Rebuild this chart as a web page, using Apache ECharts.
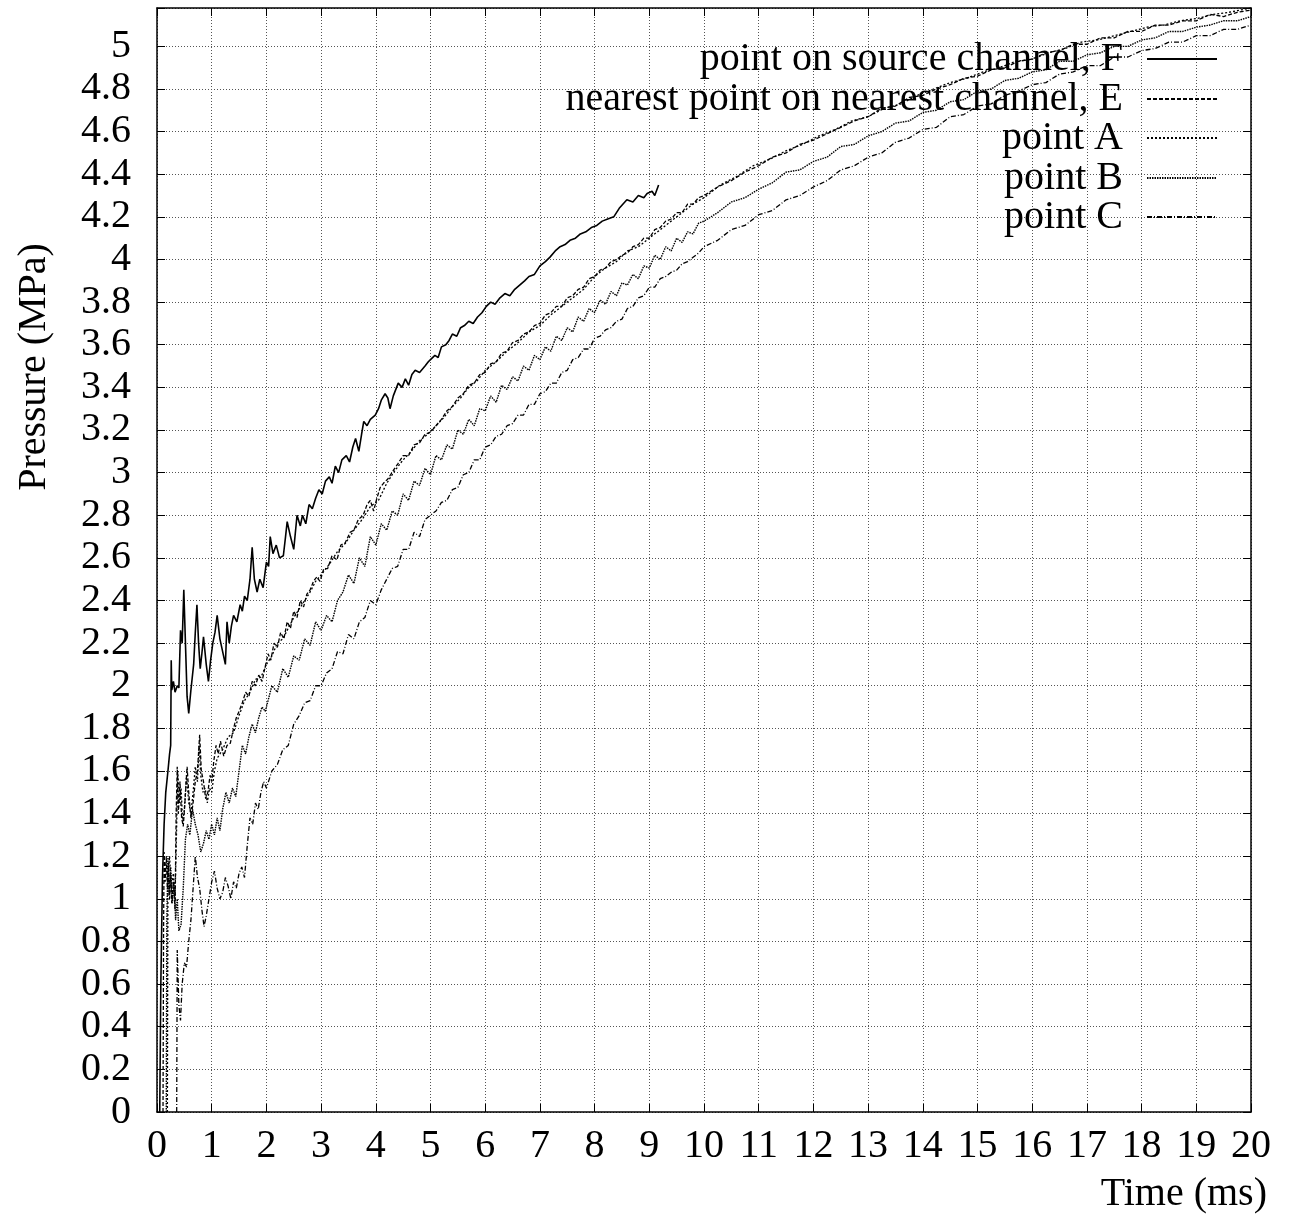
<!DOCTYPE html>
<html>
<head>
<meta charset="utf-8">
<script src="https://cdn.jsdelivr.net/npm/echarts@6/dist/echarts.min.js"></script>
<style>
  html, body { margin: 0; padding: 0; background: #fff; }
  #chart { width: 1292px; height: 1217px; }
</style>
</head>
<body>
<div id="chart"></div>
<script>
// Pressure histories (time in ms, pressure in MPa)
const seriesNames = [
  'point on source channel, F',
  'nearest point on nearest channel, E',
  'point A',
  'point B',
  'point C'
];

const pointF = [
  [0.05,0],[0.07,0.6],[0.10,1.1],[0.13,1.35],[0.16,1.5],[0.2,1.6],[0.23,1.68],[0.25,1.72],[0.26,2.12],[0.27,1.98],
  [0.3,2.02],[0.33,1.97],[0.37,2.0],[0.4,1.99],[0.43,2.26],[0.46,2.2],[0.49,2.45],[0.52,2.2],[0.55,1.95],[0.58,1.87],
  [0.62,1.98],[0.67,2.1],[0.7,2.25],[0.73,2.38],[0.76,2.2],[0.79,2.08],[0.82,2.15],[0.85,2.23],[0.9,2.1],[0.94,2.02],
  [0.98,2.12],[1.02,2.2],[1.06,2.25],[1.1,2.33],[1.15,2.22],[1.2,2.16],[1.25,2.1],[1.28,2.3],[1.32,2.2],[1.36,2.28],
  [1.4,2.33],[1.46,2.3],[1.52,2.38],[1.56,2.35],[1.6,2.42],[1.65,2.4],[1.7,2.5],[1.74,2.65],[1.78,2.5],[1.83,2.44],
  [1.88,2.5],[1.94,2.46],[2.0,2.58],[2.04,2.56],[2.07,2.7],[2.12,2.62],[2.18,2.66],[2.24,2.6],[2.31,2.61],[2.35,2.7],
  [2.38,2.77],[2.44,2.7],[2.5,2.64],[2.56,2.8],[2.62,2.75],[2.66,2.8],[2.72,2.76],[2.78,2.85],[2.84,2.83],[2.9,2.88],
  [2.96,2.92],[3.02,2.9],[3.08,2.96],[3.15,2.98],[3.2,2.95],[3.26,3.03],[3.32,3.0],[3.38,3.06],[3.46,3.08],[3.52,3.05],
  [3.58,3.12],[3.63,3.16],[3.69,3.1],[3.74,3.18],[3.78,3.24],[3.84,3.22],[3.9,3.25],[3.99,3.27],[4.05,3.3],[4.1,3.34],
  [4.17,3.37],[4.22,3.35],[4.26,3.3],[4.32,3.36],[4.38,3.4],[4.41,3.42],[4.48,3.4],[4.54,3.44],[4.6,3.41],[4.66,3.46],
  [4.72,3.48],[4.8,3.47],[4.9,3.5],[4.96,3.52],[5.0,3.53],[5.08,3.55],[5.14,3.54],[5.2,3.59],[5.28,3.6],[5.34,3.62],
  [5.4,3.65],[5.48,3.64],[5.55,3.68],[5.62,3.69],[5.7,3.71],[5.78,3.7],[5.86,3.73],[5.94,3.75],[6.02,3.78],[6.1,3.8],
  [6.18,3.79],[6.27,3.82],[6.36,3.84],[6.45,3.83],[6.54,3.86],[6.63,3.88],[6.72,3.9],[6.8,3.92],[6.9,3.93],[7.0,3.97],
  [7.1,3.99],[7.18,4.01],[7.28,4.04],[7.37,4.06],[7.46,4.07],[7.55,4.09],[7.65,4.1],[7.74,4.12],[7.84,4.13],[7.94,4.15],
  [8.04,4.16],[8.14,4.18],[8.24,4.19],[8.35,4.2],[8.45,4.24],[8.52,4.26],[8.59,4.28],[8.7,4.27],[8.8,4.3],[8.9,4.29],
  [8.96,4.31],[9.05,4.32],[9.1,4.3],[9.17,4.35]
];

const pointE = [
  [0.11,0],[0.12,0.85],[0.13,1.22],[0.15,1.08],[0.17,1.2],[0.19,1.05],[0.21,1.17],[0.23,1.0],[0.25,1.12],[0.27,0.98],
  [0.3,1.08],[0.33,0.95],[0.35,1.4],[0.37,1.62],[0.39,1.4],[0.42,1.55],[0.45,1.38],[0.48,1.34],[0.51,1.45],[0.55,1.62],
  [0.58,1.5],[0.62,1.38],[0.66,1.45],[0.7,1.55],[0.74,1.6],[0.78,1.77],[0.81,1.6],[0.85,1.55],[0.89,1.47],[0.93,1.5],
  [0.97,1.58],[1.0,1.55],[1.04,1.65],[1.08,1.72],[1.12,1.68],[1.16,1.74],[1.22,1.67],[1.28,1.72],[1.34,1.73],[1.4,1.8],
  [1.45,1.85],[1.5,1.88],[1.56,1.92],[1.62,1.97],[1.68,1.95],[1.74,2.02],[1.8,2.0],[1.86,2.05],[1.92,2.02],[1.97,2.08],
  [2.03,2.15],[2.08,2.12],[2.14,2.2],[2.2,2.18],[2.26,2.25],[2.32,2.22],[2.38,2.3],[2.44,2.27],[2.5,2.35],[2.56,2.32],
  [2.62,2.4],[2.68,2.37],[2.74,2.43],[2.8,2.45],[2.86,2.49],[2.92,2.51],[2.98,2.49],[3.05,2.55],[3.12,2.55],[3.2,2.61],
  [3.29,2.59],[3.36,2.66],[3.44,2.67],[3.53,2.72],[3.6,2.73],[3.68,2.78],[3.77,2.8],[3.84,2.85],[3.9,2.87],[3.96,2.82],
  [4.02,2.88],[4.08,2.93],[4.14,2.95],[4.22,2.97],[4.32,3.01],[4.4,3.04],[4.5,3.08],[4.6,3.08],[4.7,3.13],[4.8,3.14],
  [4.9,3.18],[5.0,3.19],[5.1,3.22],[5.2,3.25],[5.3,3.29],[5.4,3.31],[5.5,3.35],[5.6,3.37],[5.7,3.41],[5.8,3.42],
  [5.9,3.46],[6.0,3.47],[6.1,3.51],[6.2,3.52],[6.3,3.56],[6.4,3.57],[6.5,3.61],[6.6,3.62],[6.7,3.65],[6.8,3.66],
  [6.9,3.69],[7.0,3.7],[7.1,3.74],[7.2,3.75],[7.3,3.78],[7.4,3.78],[7.5,3.82],[7.6,3.83],[7.7,3.86],[7.8,3.87],
  [7.9,3.91],[8.0,3.92],[8.1,3.95],[8.2,3.96],[8.3,3.99],[8.4,4.0],[8.5,4.02],[8.6,4.03],[8.7,4.06],[8.8,4.07],
  [8.9,4.1],[9.0,4.1],[9.1,4.14],[9.2,4.15],[9.3,4.18],[9.4,4.19],[9.5,4.22],[9.6,4.22],[9.7,4.26],[9.8,4.26],
  [9.9,4.29],[10.0,4.3],[10.25,4.34],[10.5,4.37],[10.75,4.41],[11.0,4.44],[11.25,4.48],[11.5,4.5],[11.75,4.54],[12.0,4.56],
  [12.25,4.59],[12.5,4.62],[12.75,4.65],[13.0,4.67],[13.25,4.71],[13.5,4.72],[13.75,4.76],[14.0,4.77],[14.25,4.8],[14.5,4.82],
  [14.75,4.85],[15.0,4.86],[15.25,4.89],[15.5,4.9],[15.75,4.93],[16.0,4.94],[16.25,4.97],[16.5,4.98],[16.75,5.01],[17.0,5.01],
  [17.25,5.04],[17.5,5.04],[17.75,5.07],[18.0,5.07],[18.25,5.1],[18.5,5.1],[18.75,5.12],[19.0,5.12],[19.25,5.15],[19.5,5.14],
  [19.75,5.16],[20.0,5.17]
];

const pointA = [
  [0.19,0],[0.2,1.1],[0.23,1.2],[0.26,1.05],[0.3,1.12],[0.33,1.0],[0.36,1.35],[0.38,1.6],[0.41,1.45],[0.44,1.52],
  [0.47,1.36],[0.5,1.42],[0.54,1.58],[0.58,1.45],[0.62,1.4],[0.66,1.5],[0.7,1.62],[0.74,1.55],[0.77,1.72],[0.8,1.58],
  [0.84,1.5],[0.88,1.52],[0.92,1.45],[0.96,1.52],[1.0,1.5],[1.05,1.6],[1.1,1.66],[1.2,1.7],[1.3,1.76],[1.4,1.78],
  [1.5,1.86],[1.6,1.93],[1.7,1.97],[1.8,2.03],[1.9,2.04],[2.0,2.1],[2.1,2.14],[2.2,2.2],[2.3,2.22],[2.4,2.27],
  [2.5,2.32],[2.6,2.36],[2.7,2.4],[2.8,2.44],[2.9,2.49],[3.0,2.52],[3.15,2.57],[3.3,2.63],[3.45,2.67],[3.6,2.73],
  [3.75,2.78],[3.9,2.84],[4.05,2.87],[4.2,2.95],[4.35,3.01],[4.5,3.06],[4.65,3.1],[4.8,3.15],[4.95,3.18],[5.1,3.22],
  [5.25,3.26],[5.4,3.31],[5.55,3.35],[5.7,3.4],[5.85,3.43],[6.0,3.48],[6.2,3.52],[6.4,3.57],[6.6,3.61],[6.8,3.66],
  [7.0,3.69],[7.2,3.74],[7.4,3.78],[7.6,3.82],[7.8,3.86],[8.0,3.92],[8.2,3.96],[8.4,3.99],[8.6,4.04],[8.8,4.06],
  [9.0,4.1],[9.2,4.14],[9.4,4.18],[9.6,4.22],[9.8,4.26],[10.0,4.29],[10.3,4.35],[10.6,4.39],[10.9,4.44],[11.2,4.47],
  [11.5,4.51],[11.8,4.54],[12.1,4.58],[12.4,4.61],[12.7,4.65],[13.0,4.67],[13.3,4.71],[13.6,4.73],[13.9,4.77],[14.2,4.8],
  [14.5,4.83],[14.8,4.85],[15.1,4.88],[15.4,4.9],[15.7,4.93],[16.0,4.94],[16.3,4.97],[16.6,4.99],[16.9,5.02],[17.2,5.03],
  [17.5,5.05],[17.8,5.07],[18.1,5.09],[18.4,5.1],[18.7,5.12],[19.0,5.13],[19.3,5.15],[19.6,5.16],[20.0,5.18]
];

const pointB = [
  [0.17,0],[0.18,0.9],[0.2,1.2],[0.22,1.02],[0.25,1.15],[0.28,0.98],[0.31,1.08],[0.34,0.9],[0.37,1.0],[0.4,0.85],
  [0.44,0.88],[0.48,1.05],[0.52,1.28],[0.56,1.35],[0.6,1.3],[0.65,1.42],[0.7,1.35],[0.75,1.3],[0.8,1.22],[0.85,1.26],
  [0.9,1.32],[0.95,1.28],[1.0,1.35],[1.05,1.3],[1.1,1.38],[1.15,1.32],[1.2,1.42],[1.26,1.5],[1.32,1.45],[1.38,1.52],
  [1.44,1.48],[1.5,1.6],[1.56,1.72],[1.62,1.68],[1.68,1.76],[1.74,1.82],[1.8,1.78],[1.86,1.85],[1.92,1.9],[1.98,1.88],
  [2.1,2.0],[2.2,1.97],[2.3,2.08],[2.4,2.04],[2.5,2.14],[2.6,2.12],[2.7,2.22],[2.8,2.19],[2.9,2.3],[3.0,2.26],
  [3.1,2.33],[3.2,2.3],[3.3,2.4],[3.4,2.44],[3.5,2.52],[3.6,2.48],[3.7,2.6],[3.8,2.56],[3.9,2.7],[4.0,2.66],
  [4.1,2.76],[4.2,2.73],[4.3,2.82],[4.4,2.8],[4.5,2.9],[4.6,2.87],[4.7,2.96],[4.8,2.94],[4.9,3.02],[5.0,2.99],
  [5.1,3.08],[5.2,3.06],[5.3,3.13],[5.4,3.11],[5.5,3.2],[5.6,3.18],[5.7,3.25],[5.8,3.22],[5.9,3.3],[6.0,3.29],
  [6.1,3.36],[6.2,3.33],[6.3,3.41],[6.4,3.39],[6.5,3.45],[6.6,3.43],[6.7,3.5],[6.8,3.48],[6.9,3.55],[7.0,3.53],
  [7.1,3.59],[7.2,3.57],[7.3,3.64],[7.4,3.62],[7.5,3.68],[7.6,3.66],[7.7,3.73],[7.8,3.71],[7.9,3.77],[8.0,3.75],
  [8.1,3.81],[8.2,3.79],[8.3,3.85],[8.4,3.83],[8.5,3.89],[8.6,3.88],[8.7,3.93],[8.8,3.91],[8.9,3.97],[9.0,3.96],
  [9.1,4.02],[9.2,4.0],[9.3,4.06],[9.4,4.04],[9.5,4.1],[9.6,4.08],[9.7,4.13],[9.8,4.12],[9.9,4.17],[10.0,4.18],
  [10.25,4.22],[10.5,4.27],[10.75,4.29],[11.0,4.33],
  [11.25,4.36],[11.5,4.41],[11.75,4.42],[12.0,4.46],[12.25,4.48],[12.5,4.53],[12.75,4.54],[13.0,4.58],[13.25,4.6],[13.5,4.64],
  [13.75,4.65],[14.0,4.69],[14.25,4.7],[14.5,4.74],[14.75,4.75],[15.0,4.79],[15.25,4.8],[15.5,4.84],[15.75,4.85],[16.0,4.88],
  [16.25,4.89],[16.5,4.93],[16.75,4.93],[17.0,4.96],[17.25,4.97],[17.5,5.0],[17.75,5.0],[18.0,5.03],[18.25,5.04],[18.5,5.07],
  [18.75,5.07],[19.0,5.09],[19.25,5.1],[19.5,5.12],[19.75,5.12],[20.0,5.14]
];

const pointC = [
  [0.36,0],[0.37,0.76],[0.4,0.5],[0.43,0.43],[0.46,0.6],[0.5,0.7],[0.54,0.68],[0.58,0.8],[0.62,0.9],[0.66,1.05],
  [0.7,1.2],[0.74,1.1],[0.78,1.05],[0.82,0.95],[0.86,0.87],[0.9,0.92],[0.95,1.0],[1.0,1.08],[1.05,1.13],[1.1,1.05],
  [1.15,1.0],[1.2,1.03],[1.25,1.1],[1.3,1.06],[1.35,1.0],[1.4,1.08],[1.45,1.05],[1.5,1.12],[1.55,1.15],[1.6,1.1],
  [1.65,1.25],[1.7,1.38],[1.75,1.35],[1.8,1.45],[1.85,1.42],[1.9,1.5],[1.95,1.55],[2.0,1.52],
  [2.1,1.6],[2.2,1.63],[2.3,1.7],[2.4,1.72],[2.5,1.82],[2.6,1.86],[2.7,1.92],[2.8,1.93],[2.9,2.0],[3.0,2.0],
  [3.1,2.06],[3.2,2.08],[3.3,2.16],[3.4,2.15],[3.5,2.24],[3.6,2.22],[3.7,2.3],[3.8,2.32],[3.9,2.4],[4.0,2.38],
  [4.1,2.45],[4.2,2.5],[4.3,2.55],[4.4,2.56],[4.5,2.64],[4.6,2.64],[4.7,2.72],[4.8,2.7],[4.9,2.78],[5.0,2.8],
  [5.1,2.82],[5.2,2.86],[5.3,2.87],[5.4,2.92],[5.5,2.93],[5.6,2.99],[5.7,3.0],[5.8,3.06],[5.9,3.06],[6.0,3.12],
  [6.1,3.13],[6.2,3.17],[6.3,3.18],[6.4,3.22],[6.5,3.23],[6.6,3.27],[6.7,3.27],[6.8,3.32],[6.9,3.32],[7.0,3.37],
  [7.1,3.38],[7.2,3.42],[7.3,3.42],[7.4,3.47],[7.5,3.48],[7.6,3.53],[7.7,3.54],[7.8,3.58],[7.9,3.58],[8.0,3.63],
  [8.1,3.64],[8.2,3.67],[8.3,3.68],[8.4,3.71],[8.5,3.72],[8.6,3.77],[8.7,3.78],[8.8,3.82],[8.9,3.83],[9.0,3.87],
  [9.1,3.87],[9.2,3.91],[9.3,3.92],[9.4,3.94],[9.5,3.95],[9.6,3.98],[9.7,3.99],[9.8,4.01],[9.9,4.03],[10.0,4.06],
  [10.25,4.09],[10.5,4.14],[10.75,4.16],[11.0,4.21],[11.25,4.23],[11.5,4.28],[11.75,4.3],[12.0,4.34],[12.25,4.37],[12.5,4.42],
  [12.75,4.44],[13.0,4.48],[13.25,4.5],[13.5,4.55],[13.75,4.57],[14.0,4.61],[14.25,4.62],[14.5,4.67],[14.75,4.68],[15.0,4.72],
  [15.25,4.73],[15.5,4.77],[15.75,4.79],[16.0,4.82],[16.25,4.83],[16.5,4.87],[16.75,4.88],[17.0,4.91],[17.25,4.91],[17.5,4.95],
  [17.75,4.95],[18.0,4.98],[18.25,4.99],[18.5,5.02],[18.75,5.02],[19.0,5.05],[19.25,5.05],[19.5,5.08],[19.75,5.08],[20.0,5.1]
];

const seriesData = [pointF, pointE, pointA, pointB, pointC];
const dashTypes = ['solid', [4, 2], [2, 2], [1.5, 1], [5, 2, 1, 2]];
const lineWidths = [1.6, 1.3, 1.3, 1.4, 1.3];
const legendCenters = [60, 100, 139, 179, 218];

const FONT = '"Liberation Serif", "Times New Roman", serif';
const FONT_SIZE = 40;
const chart = echarts.init(document.getElementById('chart'), null, { renderer: 'canvas' });

const gridLine = { show: true, lineStyle: { color: '#555', width: 1, type: [1, 2] } };
const yFmt = v => (Math.abs(v * 5 - Math.round(v * 5)) > 1e-6 ? '' : String(Math.round(v * 10) / 10));

const option = {
  animation: false,
  backgroundColor: '#fff',
  grid: { left: 157, right: 41, top: 8, bottom: 105, containLabel: false },
  xAxis: [
    {
      type: 'value', min: 0, max: 20, interval: 1, position: 'bottom',
      axisLine: { show: true, onZero: false, lineStyle: { color: '#000', width: 1.5 } },
      axisTick: { show: true, inside: true, length: 8, lineStyle: { color: '#000', width: 1 } },
      axisLabel: { margin: 14, color: '#000', fontFamily: FONT, fontSize: FONT_SIZE },
      splitLine: gridLine
    },
    {
      type: 'value', min: 0, max: 20, interval: 1, position: 'top',
      axisLine: { show: true, onZero: false, lineStyle: { color: '#000', width: 1.5 } },
      axisTick: { show: true, inside: true, length: 8, lineStyle: { color: '#000', width: 1 } },
      axisLabel: { show: false }, splitLine: { show: false }
    }
  ],
  yAxis: [
    {
      type: 'value', min: 0, max: 5.18, interval: 0.2, position: 'left',
      axisLine: { show: true, onZero: false, lineStyle: { color: '#000', width: 1.5 } },
      axisTick: { show: true, inside: true, length: 8, lineStyle: { color: '#000', width: 1 } },
      axisLabel: { margin: 26, color: '#000', fontFamily: FONT, fontSize: FONT_SIZE, formatter: yFmt },
      splitLine: gridLine
    },
    {
      type: 'value', min: 0, max: 5.18, interval: 0.2, position: 'right',
      axisLine: { show: true, onZero: false, lineStyle: { color: '#000', width: 1.5 } },
      axisTick: { show: true, inside: true, length: 8, lineStyle: { color: '#000', width: 1 } },
      axisLabel: { show: false }, splitLine: { show: false }
    }
  ],
  legend: seriesNames.map((name, i) => ({
    data: [name],
    orient: 'vertical',
    align: 'right',
    right: 74,
    top: legendCenters[i] - 21,
    itemWidth: 70,
    itemHeight: 14,
    padding: 0,
    selectedMode: false,
    itemStyle: { opacity: 0, borderWidth: 0 },
    textStyle: { color: '#000', fontFamily: FONT, fontSize: FONT_SIZE, padding: [4, 19, 0, 0] }
  })),
  graphic: [
    {
      type: 'text', right: 25, top: 1174,
      style: { text: 'Time (ms)', font: FONT_SIZE + 'px ' + FONT, fill: '#000' }
    },
    {
      type: 'text', x: 34, y: 367, rotation: Math.PI / 2,
      style: { text: 'Pressure (MPa)', font: FONT_SIZE + 'px ' + FONT, fill: '#000', align: 'center', verticalAlign: 'middle' }
    }
  ],
  series: seriesNames.map((name, i) => ({
    name,
    type: 'line',
    data: seriesData[i],
    showSymbol: false,
    symbol: 'none',
    color: '#000',
    lineStyle: { color: '#000', width: lineWidths[i], type: dashTypes[i] },
    z: 5 - i
  }))
};

chart.setOption(option);
</script>
</body>
</html>
